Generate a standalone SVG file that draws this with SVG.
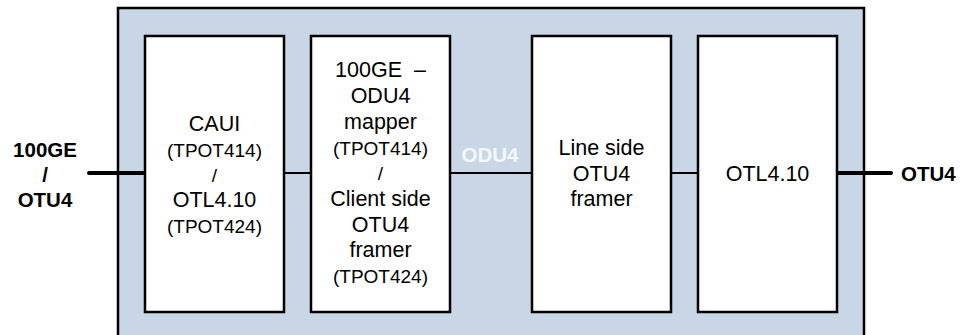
<svg xmlns="http://www.w3.org/2000/svg" width="973" height="335" viewBox="0 0 973 335">
<style>
.frame{fill:#c9d6e5;stroke:#000;stroke-width:2.5}
.blk{fill:#fff;stroke:#000;stroke-width:2.5}
.t{font-family:"Liberation Sans",Arial,sans-serif;font-size:21.5px;fill:#000;text-anchor:middle}
.p{font-size:19px}
.b{font-family:"Liberation Sans",Arial,sans-serif;font-size:20.5px;font-weight:bold;fill:#000}
.thick{stroke:#000;stroke-width:4;stroke-linecap:round;fill:none}
.thin{stroke:#000;stroke-width:2;fill:none}
</style>
<rect width="973" height="335" fill="#fff"/>
<g id="frame"><rect class="frame" x="118" y="8" width="746" height="340"/></g>
<g id="connectors">
<line class="thick" x1="89" y1="173" x2="145" y2="173"/>
<line class="thin" x1="284" y1="173" x2="311" y2="173"/>
<line class="thin" x1="450" y1="173" x2="532" y2="173"/>
<line class="thin" x1="671" y1="173" x2="698" y2="173"/>
<line class="thick" x1="837" y1="173" x2="891" y2="173"/>
</g>
<g id="in-label"><text class="b" text-anchor="middle"><tspan x="45" y="157">100GE</tspan><tspan x="45" y="182">/</tspan><tspan x="45" y="207">OTU4</tspan></text></g>
<g id="out-label"><text class="b" x="901" y="181">OTU4</text></g>
<g id="odu4-label"><text class="b" x="490" y="162" text-anchor="middle" style="fill:#f4f7fb">ODU4</text></g>
<g id="caui">
<rect class="blk" x="145" y="36" width="139" height="276"/>
<text class="t"><tspan x="214.5" y="131">CAUI</tspan><tspan class="p" x="214.5" y="157">(TPOT414)</tspan><tspan class="p" x="214.5" y="182">/</tspan><tspan x="214.5" y="207">OTL4.10</tspan><tspan class="p" x="214.5" y="233">(TPOT424)</tspan></text>
</g>
<g id="mapper">
<rect class="blk" x="311" y="36" width="139" height="276"/>
<text class="t"><tspan x="380.5" y="77">100GE&#160; –</tspan><tspan x="380.5" y="103">ODU4</tspan><tspan x="380.5" y="129">mapper</tspan><tspan class="p" x="380.5" y="155">(TPOT414)</tspan><tspan class="p" x="380.5" y="180">/</tspan><tspan x="380.5" y="206">Client side</tspan><tspan x="380.5" y="232">OTU4</tspan><tspan x="380.5" y="257">framer</tspan><tspan class="p" x="380.5" y="283">(TPOT424)</tspan></text>
</g>
<g id="line-framer">
<rect class="blk" x="532" y="36" width="139" height="276"/>
<text class="t"><tspan x="601.5" y="155">Line side</tspan><tspan x="601.5" y="181">OTU4</tspan><tspan x="601.5" y="206">framer</tspan></text>
</g>
<g id="otl">
<rect class="blk" x="698" y="36" width="139" height="276"/>
<text class="t"><tspan x="767.5" y="181">OTL4.10</tspan></text>
</g>
</svg>
